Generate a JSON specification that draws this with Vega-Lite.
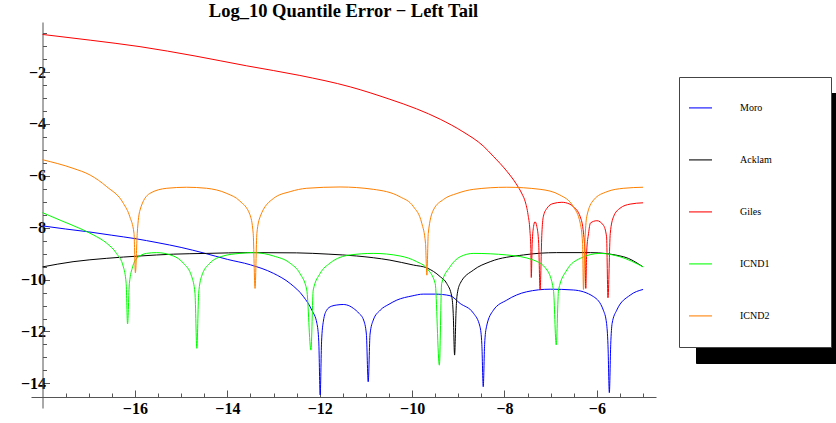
{
  "$schema": "https://vega.github.io/schema/vega-lite/v6.json",
  "width": 625,
  "height": 386,
  "autosize": {"type": "none"},
  "padding": {"left": 31, "top": 22, "right": 180, "bottom": 15},
  "background": "white",
  "view": {"stroke": null},
  "title": {"text": "Log_10 Quantile Error − Left Tail", "font": "Liberation Serif", "fontSize": 18.5, "fontWeight": "bold", "color": "black", "anchor": "middle", "offset": 2, "frame": "group"},
  "data": {"values": [
    {"s":"Moro","x":-18,"y":-7.93},{"s":"Moro","x":-17.5,"y":-8.05},{"s":"Moro","x":-17,"y":-8.16},{"s":"Moro","x":-16.5,"y":-8.29},{"s":"Moro","x":-16,"y":-8.42},{"s":"Moro","x":-15.5,"y":-8.58},{"s":"Moro","x":-15,"y":-8.76},{"s":"Moro","x":-14.5,"y":-8.98},{"s":"Moro","x":-14,"y":-9.22},{"s":"Moro","x":-13.5,"y":-9.43},{"s":"Moro","x":-13,"y":-9.76},{"s":"Moro","x":-12.64,"y":-10.15},{"s":"Moro","x":-12.35,"y":-10.66},{"s":"Moro","x":-12.17,"y":-11.18},{"s":"Moro","x":-12.06,"y":-11.69},{"s":"Moro","x":-12.02,"y":-12.4},{"s":"Moro","x":-11.99,"y":-14.45},{"s":"Moro","x":-11.96,"y":-12.4},{"s":"Moro","x":-11.92,"y":-11.6},{"s":"Moro","x":-11.85,"y":-11.18},{"s":"Moro","x":-11.75,"y":-11.03},{"s":"Moro","x":-11.63,"y":-10.98},{"s":"Moro","x":-11.49,"y":-10.96},{"s":"Moro","x":-11.35,"y":-11.02},{"s":"Moro","x":-11.27,"y":-11.11},{"s":"Moro","x":-11.15,"y":-11.3},{"s":"Moro","x":-11.05,"y":-11.56},{"s":"Moro","x":-10.99,"y":-12.1},{"s":"Moro","x":-10.95,"y":-13.94},{"s":"Moro","x":-10.91,"y":-12.1},{"s":"Moro","x":-10.84,"y":-11.56},{"s":"Moro","x":-10.69,"y":-11.18},{"s":"Moro","x":-10.5,"y":-10.95},{"s":"Moro","x":-10.33,"y":-10.79},{"s":"Moro","x":-10,"y":-10.63},{"s":"Moro","x":-9.76,"y":-10.56},{"s":"Moro","x":-9.5,"y":-10.56},{"s":"Moro","x":-9.18,"y":-10.62},{"s":"Moro","x":-8.96,"y":-10.92},{"s":"Moro","x":-8.67,"y":-11.3},{"s":"Moro","x":-8.53,"y":-11.82},{"s":"Moro","x":-8.49,"y":-12.5},{"s":"Moro","x":-8.46,"y":-14.13},{"s":"Moro","x":-8.43,"y":-12.5},{"s":"Moro","x":-8.39,"y":-11.82},{"s":"Moro","x":-8.24,"y":-11.18},{"s":"Moro","x":-7.95,"y":-10.79},{"s":"Moro","x":-7.52,"y":-10.47},{"s":"Moro","x":-7.01,"y":-10.37},{"s":"Moro","x":-6.51,"y":-10.4},{"s":"Moro","x":-6.07,"y":-10.66},{"s":"Moro","x":-5.86,"y":-11.18},{"s":"Moro","x":-5.79,"y":-11.69},{"s":"Moro","x":-5.76,"y":-12.5},{"s":"Moro","x":-5.73,"y":-14.36},{"s":"Moro","x":-5.7,"y":-12.5},{"s":"Moro","x":-5.67,"y":-11.69},{"s":"Moro","x":-5.57,"y":-11.18},{"s":"Moro","x":-5.28,"y":-10.6},{"s":"Moro","x":-5,"y":-10.38},

    {"s":"Acklam","x":-18,"y":-9.51},{"s":"Acklam","x":-17.34,"y":-9.31},{"s":"Acklam","x":-16.61,"y":-9.18},{"s":"Acklam","x":-15.89,"y":-9.09},{"s":"Acklam","x":-15.17,"y":-9.02},{"s":"Acklam","x":-14.45,"y":-8.99},{"s":"Acklam","x":-13.5,"y":-8.96},{"s":"Acklam","x":-12.5,"y":-8.97},{"s":"Acklam","x":-11.8,"y":-9.02},{"s":"Acklam","x":-11.2,"y":-9.09},{"s":"Acklam","x":-10.48,"y":-9.25},{"s":"Acklam","x":-9.97,"y":-9.44},{"s":"Acklam","x":-9.68,"y":-9.55},{"s":"Acklam","x":-9.39,"y":-9.89},{"s":"Acklam","x":-9.25,"y":-10.15},{"s":"Acklam","x":-9.14,"y":-10.66},{"s":"Acklam","x":-9.11,"y":-11.3},{"s":"Acklam","x":-9.08,"y":-12.91},{"s":"Acklam","x":-9.05,"y":-11.3},{"s":"Acklam","x":-9.03,"y":-10.66},{"s":"Acklam","x":-8.96,"y":-10.15},{"s":"Acklam","x":-8.67,"y":-9.63},{"s":"Acklam","x":-8.31,"y":-9.31},{"s":"Acklam","x":-7.59,"y":-9.05},{"s":"Acklam","x":-6.87,"y":-8.96},{"s":"Acklam","x":-6.14,"y":-8.96},{"s":"Acklam","x":-5.42,"y":-9.12},{"s":"Acklam","x":-5,"y":-9.51},

    {"s":"Giles","x":-18,"y":-0.55},{"s":"Giles","x":-16.97,"y":-0.77},{"s":"Giles","x":-15.89,"y":-1.02},{"s":"Giles","x":-14.7,"y":-1.38},{"s":"Giles","x":-13.58,"y":-1.76},{"s":"Giles","x":-12.43,"y":-2.13},{"s":"Giles","x":-11.34,"y":-2.57},{"s":"Giles","x":-10.48,"y":-3.05},{"s":"Giles","x":-9.9,"y":-3.42},{"s":"Giles","x":-9.39,"y":-3.82},{"s":"Giles","x":-8.9,"y":-4.3},{"s":"Giles","x":-8.46,"y":-4.85},{"s":"Giles","x":-8.24,"y":-5.25},{"s":"Giles","x":-7.95,"y":-5.82},{"s":"Giles","x":-7.75,"y":-6.3},{"s":"Giles","x":-7.62,"y":-6.7},{"s":"Giles","x":-7.55,"y":-7.0},{"s":"Giles","x":-7.49,"y":-7.5},{"s":"Giles","x":-7.45,"y":-8.1},{"s":"Giles","x":-7.43,"y":-8.8},{"s":"Giles","x":-7.42,"y":-9.92},{"s":"Giles","x":-7.4,"y":-8.6},{"s":"Giles","x":-7.37,"y":-7.95},{"s":"Giles","x":-7.34,"y":-7.77},{"s":"Giles","x":-7.3,"y":-7.95},{"s":"Giles","x":-7.26,"y":-8.6},{"s":"Giles","x":-7.23,"y":-10.4},{"s":"Giles","x":-7.19,"y":-8.2},{"s":"Giles","x":-7.16,"y":-7.58},{"s":"Giles","x":-7.08,"y":-7.25},{"s":"Giles","x":-6.95,"y":-7.07},{"s":"Giles","x":-6.76,"y":-7.02},{"s":"Giles","x":-6.6,"y":-7.08},{"s":"Giles","x":-6.51,"y":-7.19},{"s":"Giles","x":-6.36,"y":-7.58},{"s":"Giles","x":-6.29,"y":-8.2},{"s":"Giles","x":-6.26,"y":-8.9},{"s":"Giles","x":-6.24,"y":-10.34},{"s":"Giles","x":-6.22,"y":-8.9},{"s":"Giles","x":-6.18,"y":-8.22},{"s":"Giles","x":-6.14,"y":-7.82},{"s":"Giles","x":-6,"y":-7.73},{"s":"Giles","x":-5.86,"y":-7.9},{"s":"Giles","x":-5.79,"y":-8.35},{"s":"Giles","x":-5.76,"y":-10.7},{"s":"Giles","x":-5.71,"y":-8.22},{"s":"Giles","x":-5.64,"y":-7.58},{"s":"Giles","x":-5.5,"y":-7.25},{"s":"Giles","x":-5.28,"y":-7.09},{"s":"Giles","x":-5,"y":-7.04},

    {"s":"ICND1","x":-18,"y":-7.42},{"s":"ICND1","x":-17.62,"y":-7.71},{"s":"ICND1","x":-17.19,"y":-8.03},{"s":"ICND1","x":-16.9,"y":-8.28},{"s":"ICND1","x":-16.61,"y":-8.6},{"s":"ICND1","x":-16.4,"y":-8.99},{"s":"ICND1","x":-16.25,"y":-9.51},{"s":"ICND1","x":-16.19,"y":-10.15},{"s":"ICND1","x":-16.16,"y":-11.71},{"s":"ICND1","x":-16.12,"y":-10.15},{"s":"ICND1","x":-16.05,"y":-9.51},{"s":"ICND1","x":-15.96,"y":-9.18},{"s":"ICND1","x":-15.75,"y":-8.99},{"s":"ICND1","x":-15.53,"y":-8.96},{"s":"ICND1","x":-15.17,"y":-9.09},{"s":"ICND1","x":-14.95,"y":-9.37},{"s":"ICND1","x":-14.77,"y":-9.89},{"s":"ICND1","x":-14.7,"y":-10.53},{"s":"ICND1","x":-14.66,"y":-12.65},{"s":"ICND1","x":-14.62,"y":-10.53},{"s":"ICND1","x":-14.56,"y":-9.89},{"s":"ICND1","x":-14.38,"y":-9.37},{"s":"ICND1","x":-14.09,"y":-9.09},{"s":"ICND1","x":-13.73,"y":-8.99},{"s":"ICND1","x":-13.45,"y":-8.96},{"s":"ICND1","x":-13.2,"y":-9.0},{"s":"ICND1","x":-13,"y":-9.09},{"s":"ICND1","x":-12.64,"y":-9.37},{"s":"ICND1","x":-12.43,"y":-9.76},{"s":"ICND1","x":-12.28,"y":-10.4},{"s":"ICND1","x":-12.19,"y":-12.72},{"s":"ICND1","x":-12.14,"y":-10.4},{"s":"ICND1","x":-11.99,"y":-9.76},{"s":"ICND1","x":-11.78,"y":-9.37},{"s":"ICND1","x":-11.34,"y":-9.05},{"s":"ICND1","x":-10.84,"y":-8.99},{"s":"ICND1","x":-10.26,"y":-9.09},{"s":"ICND1","x":-9.9,"y":-9.31},{"s":"ICND1","x":-9.68,"y":-9.57},{"s":"ICND1","x":-9.5,"y":-10.15},{"s":"ICND1","x":-9.41,"y":-13.3},{"s":"ICND1","x":-9.36,"y":-10.15},{"s":"ICND1","x":-9.18,"y":-9.51},{"s":"ICND1","x":-8.96,"y":-9.12},{"s":"ICND1","x":-8.67,"y":-8.99},{"s":"ICND1","x":-7.95,"y":-9.05},{"s":"ICND1","x":-7.37,"y":-9.25},{"s":"ICND1","x":-7.08,"y":-9.63},{"s":"ICND1","x":-6.94,"y":-10.4},{"s":"ICND1","x":-6.88,"y":-12.52},{"s":"ICND1","x":-6.83,"y":-10.4},{"s":"ICND1","x":-6.65,"y":-9.63},{"s":"ICND1","x":-6.36,"y":-9.18},{"s":"ICND1","x":-5.93,"y":-8.99},{"s":"ICND1","x":-5.5,"y":-9.12},{"s":"ICND1","x":-5,"y":-9.51},

    {"s":"ICND2","x":-18,"y":-5.38},{"s":"ICND2","x":-17.34,"y":-5.71},{"s":"ICND2","x":-16.97,"y":-5.97},{"s":"ICND2","x":-16.61,"y":-6.42},{"s":"ICND2","x":-16.25,"y":-7.06},{"s":"ICND2","x":-16.11,"y":-7.58},{"s":"ICND2","x":-16.02,"y":-8.22},{"s":"ICND2","x":-15.99,"y":-9.74},{"s":"ICND2","x":-15.95,"y":-8.22},{"s":"ICND2","x":-15.89,"y":-7.32},{"s":"ICND2","x":-15.68,"y":-6.68},{"s":"ICND2","x":-15.31,"y":-6.48},{"s":"ICND2","x":-14.88,"y":-6.44},{"s":"ICND2","x":-14.45,"y":-6.48},{"s":"ICND2","x":-14.01,"y":-6.68},{"s":"ICND2","x":-13.73,"y":-6.97},{"s":"ICND2","x":-13.51,"y":-7.5},{"s":"ICND2","x":-13.44,"y":-8.22},{"s":"ICND2","x":-13.4,"y":-10.34},{"s":"ICND2","x":-13.36,"y":-8.22},{"s":"ICND2","x":-13.29,"y":-7.58},{"s":"ICND2","x":-13,"y":-6.87},{"s":"ICND2","x":-12.64,"y":-6.61},{"s":"ICND2","x":-12.28,"y":-6.48},{"s":"ICND2","x":-11.56,"y":-6.43},{"s":"ICND2","x":-10.84,"y":-6.52},{"s":"ICND2","x":-10.26,"y":-6.81},{"s":"ICND2","x":-9.97,"y":-7.19},{"s":"ICND2","x":-9.79,"y":-7.83},{"s":"ICND2","x":-9.71,"y":-8.6},{"s":"ICND2","x":-9.68,"y":-9.83},{"s":"ICND2","x":-9.65,"y":-8.22},{"s":"ICND2","x":-9.54,"y":-7.32},{"s":"ICND2","x":-9.32,"y":-6.91},{"s":"ICND2","x":-9.03,"y":-6.68},{"s":"ICND2","x":-8.67,"y":-6.52},{"s":"ICND2","x":-7.95,"y":-6.44},{"s":"ICND2","x":-7.23,"y":-6.52},{"s":"ICND2","x":-6.8,"y":-6.74},{"s":"ICND2","x":-6.51,"y":-7.19},{"s":"ICND2","x":-6.36,"y":-7.83},{"s":"ICND2","x":-6.31,"y":-8.6},{"s":"ICND2","x":-6.29,"y":-10.38},{"s":"ICND2","x":-6.26,"y":-8.6},{"s":"ICND2","x":-6.22,"y":-7.58},{"s":"ICND2","x":-6.07,"y":-6.93},{"s":"ICND2","x":-5.78,"y":-6.61},{"s":"ICND2","x":-5.42,"y":-6.48},{"s":"ICND2","x":-5,"y":-6.44}
  ]},
  "encoding": {
    "x": {"field": "x", "type": "quantitative",
      "scale": {"domain": [-18.25, -4.72], "nice": false, "zero": false},
      "axis": {"title": null, "grid": false, "offset": -11, "format": ".0f",
        "values": [-17.5,-17,-16.5,-16,-15.5,-15,-14.5,-14,-13.5,-13,-12.5,-12,-11.5,-11,-10.5,-10,-9.5,-9,-8.5,-8,-7.5,-7,-6.5,-6,-5.5,-5],
        "labelExpr": "datum.value % 2 === 0 ? datum.label : ''",
        "tickSize": {"condition": {"test": "datum.value % 2 === 0", "value": -7}, "value": -4},
        "domainColor": "#555", "tickColor": "#555", "labelColor": "black",
        "labelFont": "Liberation Serif", "labelFontWeight": "bold", "labelFontSize": 16,
        "labelPadding": 10, "labelFlush": false, "labelOverlap": false}},
    "y": {"field": "y", "type": "quantitative",
      "scale": {"domain": [-14.95, -0.07], "nice": false, "zero": false},
      "axis": {"title": null, "grid": false, "offset": -11.5, "format": ".0f",
        "values": [-14,-13.5,-13,-12.5,-12,-11.5,-11,-10.5,-10,-9.5,-9,-8.5,-8,-7.5,-7,-6.5,-6,-5.5,-5,-4.5,-4,-3.5,-3,-2.5,-2,-1.5,-1,-0.5],
        "labelExpr": "datum.value % 2 === 0 ? datum.label : ''",
        "tickSize": {"condition": {"test": "datum.value % 2 === 0", "value": -7}, "value": -4},
        "domainColor": "#555", "tickColor": "#555", "labelColor": "black",
        "labelFont": "Liberation Serif", "labelFontWeight": "bold", "labelFontSize": 16,
        "labelPadding": 4, "labelFlush": false, "labelOverlap": false}}
  },
  "layer": [
    {
      "mark": {"type": "line", "opacity": 0, "interpolate": "monotone"},
      "encoding": {
        "color": {"field": "s", "type": "nominal",
          "scale": {"domain": ["Moro","Acklam","Giles","ICND1","ICND2"], "range": ["black","black","black","black","black"]},
          "legend": {"orient": "none", "legendX": 665, "legendY": 71, "title": "\u00a0", "titleOrient": "right", "titleFontSize": 1, "titlePadding": 54,
            "padding": 5, "clipHeight": 51.75, "rowPadding": 0, "symbolType": "stroke", "symbolSize": 529, "symbolOffset": 4, "symbolStrokeWidth": 1.5,
            "labelOffset": 27, "labelFont": "Liberation Serif", "labelFontSize": 10, "labelColor": "black",
            "fillColor": "black", "strokeColor": "black", "zindex": 1}}
      }
    },
    {
      "mark": {"type": "line", "strokeWidth": 1, "interpolate": "monotone"},
      "encoding": {
        "color": {"field": "s", "type": "nominal",
          "scale": {"domain": ["Moro","Acklam","Giles","ICND1","ICND2"], "range": ["#0000ff","#000000","#ff0000","#00ff00","#ff8000"]},
          "legend": {"orient": "none", "legendX": 648, "legendY": 55, "title": "\u00a0", "titleOrient": "right", "titleFontSize": 1, "titlePadding": 54,
            "padding": 5, "clipHeight": 51.75, "rowPadding": 0, "symbolType": "stroke", "symbolSize": 529, "symbolOffset": 4, "symbolStrokeWidth": 1.5, "symbolOpacity": 0.7,
            "labelOffset": 27, "labelFont": "Liberation Serif", "labelFontSize": 10, "labelColor": "black",
            "fillColor": "white", "strokeColor": "#444", "zindex": 2}}
      }
    }
  ],
  "resolve": {"scale": {"color": "independent"}, "legend": {"color": "independent"}}
}
